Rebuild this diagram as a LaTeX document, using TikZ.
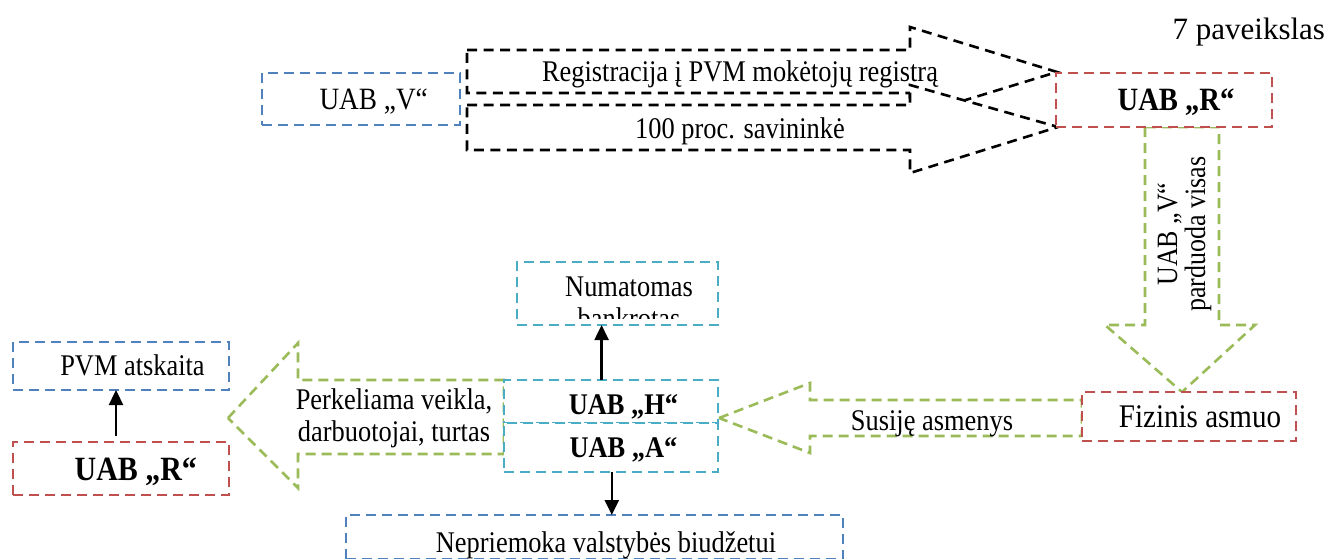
\documentclass[tikz,border=0pt]{standalone}
\usepackage{fontspec}
\setmainfont{Liberation Serif}[FakeStretch=0.88]
\newfontfamily\plainserif{Liberation Serif}
\usetikzlibrary{arrows.meta}
\definecolor{cblue}{RGB}{79,129,189}
\definecolor{cred}{RGB}{192,80,77}
\definecolor{cgreen}{RGB}{155,187,89}
\definecolor{ccyan}{RGB}{75,172,198}
\newcommand\sz[1]{\fontsize{#1}{#1}\selectfont}
\tikzset{
  dsh/.style={line width=2.6pt, dash pattern=on 10pt off 6pt},
  boxst/.style={draw, dsh, fill=white, rectangle, inner sep=0pt, outer sep=0pt},
  txt/.style={inner sep=0pt, outer sep=0pt, anchor=base},
  blkarrow/.style={draw=black, line width=2.6pt, dash pattern=on 10pt off 6.5pt, fill=white, line join=miter},
  grnarrow/.style={draw=cgreen, dsh, fill=white, line join=miter},
  solidarr/.style={draw=black, line width=2.4pt, -{Triangle[length=15pt,width=14pt]}}
}
\begin{document}
\begin{tikzpicture}[x=1pt,y=-1pt]
\clip (0,0) rectangle (1330,558);
\fill[white] (0,0) rectangle (1330,558);

% block arrows (top)
\draw[blkarrow] (467,50) -- (910,50) -- (910,27) -- (1057,72) -- (910,117) -- (910,93) -- (467,93) -- cycle;
\draw[blkarrow] (467,105) -- (910,105) -- (910,85) -- (1058,127) -- (910,173) -- (910,150) -- (467,150) -- cycle;

% green block arrows
\draw[grnarrow] (1145,127) -- (1145,325) -- (1105,325) -- (1182,392) -- (1255,325) -- (1219,325) -- (1219,127) -- cycle;
\draw[grnarrow] (719,418) -- (810,383) -- (810,400) -- (1082,400) -- (1082,436) -- (810,436) -- (810,453) -- cycle;
\draw[grnarrow] (228,418) -- (298,343) -- (298,380) -- (504,380) -- (504,454) -- (298,454) -- (298,488) -- cycle;

% boxes
\node[boxst, draw=cblue, minimum width=198pt, minimum height=52pt] (uabv) at (361,99) {};
\node[boxst, draw=cred, minimum width=216pt, minimum height=54pt] (rtop) at (1164,100) {};
\node[boxst, draw=cred, minimum width=214pt, minimum height=49pt] (fiz) at (1189,416.5) {};
\node[boxst, draw=ccyan, minimum width=201pt, minimum height=63pt] (num) at (617.5,293.5) {};
\node[boxst, draw=ccyan, minimum width=214pt, minimum height=43pt] (hbox) at (611,401.5) {};
\node[boxst, draw=ccyan, minimum width=214pt, minimum height=49pt] (abox) at (611,447.5) {};
\node[boxst, draw=cblue, minimum width=497pt, minimum height=44pt] (nep) at (594.5,537) {};
\node[boxst, draw=cblue, minimum width=216pt, minimum height=48pt] (pvm) at (121,366) {};
\node[boxst, draw=cred, minimum width=216pt, minimum height=53pt] (rbot) at (121,468.5) {};

% texts
\node[txt, anchor=base east, font=\plainserif\sz{31}] (fig) at (1325,39) {7 paveikslas};
\node[txt, font=\sz{31}] (uabvt) at (373.7,109) {UAB „V“};
\node[txt, font=\sz{30}] (regt) at (740,81) {Registracija į PVM mokėtojų registrą};
\node[txt, font=\sz{30}] (proct) at (740,138) {100 proc. savininkė};
\node[txt, font=\bfseries\sz{32.5}] (rtopt) at (1176,110) {UAB „R“};
\node[txt, rotate=90, font=\sz{29.5}] (vert1) at (1177,234) {UAB „V“};
\node[txt, rotate=90, font=\sz{29.5}] (vert2) at (1205,234) {parduoda visas};
\node[txt, font=\sz{33}] (fizt) at (1200,427) {Fizinis asmuo};
\node[txt, font=\sz{30}] (sust) at (932,430) {Susiję asmenys};
\begin{scope}
\clip (518,263) rectangle (717,318);
\node[txt, font=\sz{30}] (numt1) at (629,296) {Numatomas};
\node[txt, font=\sz{30}] (numt2) at (629,328) {bankrotas};
\end{scope}
\node[txt, font=\bfseries\sz{30}] (ht) at (623.5,414) {UAB „H“};
\node[txt, font=\bfseries\sz{30}] (at) at (623.5,457) {UAB „A“};
\node[txt, font=\sz{30}] (nept) at (606,552) {Nepriemoka valstybės biudžetui};
\node[txt, font=\sz{30}] (pvmt) at (132.5,375) {PVM atskaita};
\node[txt, font=\bfseries\sz{34}] (rbott) at (135.8,480) {UAB „R“};
\node[txt, font=\sz{30}] (perk1) at (394,409) {Perkeliama veikla,};
\node[txt, font=\sz{30}] (perk2) at (394,441) {darbuotojai, turtas};

% solid arrows
\draw[solidarr, shorten <=6pt] ([xshift=-5pt]rbot.north) -- ([xshift=-5pt]pvm.south);
\draw[solidarr] ([xshift=-9.4pt]hbox.north) -- ([xshift=-15.9pt]num.south);
\draw[solidarr] ([xshift=0.8pt]abox.south) -- ([xshift=17.3pt]nep.north);
\end{tikzpicture}
\end{document}
